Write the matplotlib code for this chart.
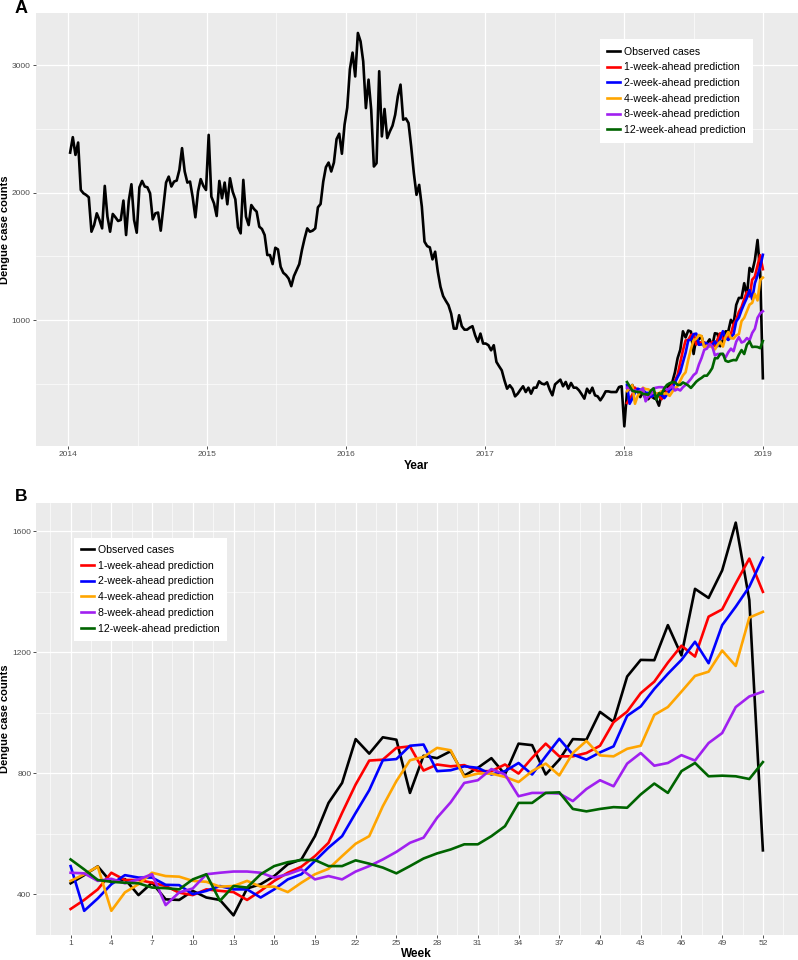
import numpy as np
import pandas as pd
import matplotlib
matplotlib.use('Agg')
import matplotlib.pyplot as plt
import matplotlib.dates as mdates
from matplotlib.ticker import FixedLocator

plt.rcParams['font.family'] = ['Liberation Sans', 'DejaVu Sans']

# weekly observed dengue cases, 2014-01-06 .. 2018-01-01
obs_2014_2017 = [
    2314, 2435, 2296, 2393, 2021, 1995, 1982, 1964, 1694, 1746, 1838, 1786, 1720, 2053,
    1812, 1694, 1833, 1807, 1778, 1786, 1938, 1668, 1935, 2066, 1786, 1686, 2042, 2092,
    2048, 2042, 1995, 1791, 1838, 1844, 1702, 1891, 2079, 2126, 2048, 2087, 2095, 2179,
    2349, 2166, 2079, 2087, 1964, 1807, 2009, 2106, 2053, 2021, 2453,
    1969, 1916, 1817, 2092, 1956, 2079, 1909, 2113, 2008, 1948, 1728, 1681, 2100, 1812,
    1746, 1903, 1872, 1851, 1733, 1715, 1668, 1511, 1511, 1440, 1568, 1555, 1419, 1372,
    1354, 1327, 1267, 1346, 1393, 1440, 1550, 1641, 1720, 1694, 1702, 1720, 1885, 1911,
    2087, 2200, 2236, 2166, 2236, 2420, 2462, 2305, 2533, 2666,
    2967, 3098, 2911, 3252, 3186, 3029, 2663, 2886, 2650, 2205, 2231, 2952, 2441, 2656,
    2428, 2480, 2525, 2611, 2755, 2847, 2572, 2582, 2546, 2362, 2153, 1983, 2061, 1891,
    1616, 1581, 1571, 1477, 1537, 1380, 1262, 1189, 1152, 1118, 1052, 934, 934, 1039,
    953, 926, 926, 942, 953, 882, 830,
    895, 817, 817, 804, 764, 804, 673, 639, 607, 529, 463, 490, 463, 403, 424, 455,
    482, 437, 471, 424, 471, 471, 521, 503, 497, 513, 455, 411, 497, 516, 534, 482,
    516, 463, 508, 471, 471, 450, 419, 385, 463, 429, 471, 411, 403, 372, 403, 442,
    442, 437, 437, 437, 476, 482, 168,
]

# 2018, weeks 1..52
weeks = list(range(1, 53))
obs_2018 = [
    436, 463, 492, 439, 450, 397, 438, 383, 381, 411, 389, 381, 330, 419, 433, 460,
    499, 515, 592, 702, 768, 913, 865, 919, 911, 735, 858, 850, 873, 792, 818, 850,
    796, 898, 893, 796, 845, 913, 911, 1003, 970, 1120, 1175, 1174, 1290, 1190, 1410,
    1380, 1471, 1629, 1373, 545,
]
pred_1wk = [
    351, 381, 416, 471, 447, 447, 438, 427, 405, 397, 416, 411, 407, 381, 411, 444,
    471, 491, 526, 570, 669, 763, 842, 845, 884, 889, 809, 829, 823, 827, 807, 807,
    829, 799, 851, 898, 856, 856, 867, 891, 969, 1004, 1065, 1103, 1166, 1222, 1186,
    1318, 1342, 1428, 1510, 1400,
]
pred_2wk = [
    493, 345, 386, 433, 463, 455, 455, 431, 430, 400, 411, 427, 416, 416, 389, 416,
    449, 466, 510, 554, 592, 669, 744, 843, 847, 891, 895, 807, 810, 823, 818, 796,
    807, 834, 796, 856, 914, 862, 845, 869, 889, 990, 1021, 1079, 1129, 1175, 1235,
    1164, 1290, 1351, 1417, 1513,
]
pred_4wk = [
    444, 466, 491, 345, 406, 433, 471, 460, 458, 444, 441, 425, 427, 444, 425, 425,
    407, 438, 466, 484, 526, 567, 592, 691, 774, 843, 854, 884, 876, 788, 799, 799,
    788, 771, 807, 832, 793, 867, 907, 859, 856, 881, 891, 993, 1019, 1070, 1122,
    1136, 1206, 1155, 1315, 1334,
]
pred_8wk = [
    471, 469, 444, 451, 436, 449, 466, 364, 406, 419, 466, 471, 475, 475, 471, 455,
    466, 482, 449, 460, 449, 475, 493, 515, 540, 570, 587, 653, 704, 768, 777, 814,
    796, 724, 735, 735, 733, 708, 748, 777, 757, 832, 867, 825, 834, 860, 842, 900,
    933, 1019, 1054, 1070,
]
pred_12wk = [
    515, 482, 447, 441, 438, 436, 422, 420, 416, 449, 466, 378, 427, 422, 466, 493,
    506, 513, 513, 493, 493, 512, 501, 488, 469, 493, 518, 535, 548, 565, 565, 592,
    625, 702, 702, 735, 737, 682, 674, 682, 688, 686, 730, 766, 735, 807, 834, 790,
    792, 790, 781, 837,
]

labels = ["Observed cases", "1-week-ahead prediction", "2-week-ahead prediction",
          "4-week-ahead prediction", "8-week-ahead prediction", "12-week-ahead prediction"]
colors = ["black", "#FF0000", "#0000FF", "#FFA500", "#A020F0", "#006400"]
preds = [pred_1wk, pred_2wk, pred_4wk, pred_8wk, pred_12wk]

obs_all = obs_2014_2017 + obs_2018
dates_all = pd.date_range('2014-01-06', periods=len(obs_all), freq='7D')
dates_2018 = dates_all[len(obs_2014_2017):]

LW = 1.9


def gg_style(ax):
    ax.set_facecolor('#EBEBEB')
    for s in ax.spines.values():
        s.set_visible(False)
    ax.set_axisbelow(True)
    ax.grid(which='major', color='white', lw=0.9)
    ax.grid(which='minor', color='white', lw=0.45)
    ax.tick_params(which='major', length=2.2, width=0.6, color='#333333',
                   labelsize=6, labelcolor='#4D4D4D', pad=1.2)
    ax.tick_params(which='minor', length=0)


def expand(lo, hi, f=0.05):
    d = (hi - lo) * f
    return lo - d, hi + d


fig = plt.figure(figsize=(7.98, 9.6), dpi=100)

# ---- panel A
axA = fig.add_axes([35.5 / 798, 1 - 446 / 960, 762 / 798, 432.7 / 960])
gg_style(axA)
axA.plot(dates_all, obs_all, color=colors[0], lw=LW, label=labels[0])
for p, c, l in zip(preds, colors[1:], labels[1:]):
    axA.plot(dates_2018, p, color=c, lw=LW, label=l)
pad = (dates_all[-1] - dates_all[0]) * 0.05
axA.set_xlim(dates_all[0] - pad, dates_all[-1] + pad)
axA.set_ylim(*expand(min(obs_all), max(obs_all)))
axA.xaxis.set_major_locator(mdates.YearLocator())
axA.xaxis.set_major_formatter(mdates.DateFormatter('%Y'))
axA.xaxis.set_minor_locator(FixedLocator(mdates.date2num(
    pd.to_datetime(['2014-07-02', '2015-07-02', '2016-07-02', '2017-07-02', '2018-07-02']))))
axA.yaxis.set_major_locator(FixedLocator([1000, 2000, 3000]))
axA.yaxis.set_minor_locator(FixedLocator([500, 1500, 2500]))
axA.set_xlabel('Year', fontsize=8.5, fontweight='bold')
axA.xaxis.set_label_coords(0.5, -0.033)
axA.set_ylabel('Dengue case counts', fontsize=8, fontweight='bold')
axA.yaxis.set_label_coords(-0.034, 0.5)

# ---- panel B
axB = fig.add_axes([36 / 798, 1 - 935 / 960, 761.5 / 798, 432 / 960])
gg_style(axB)
axB.plot(weeks, obs_2018, color=colors[0], lw=LW, label=labels[0])
for p, c, l in zip(preds, colors[1:], labels[1:]):
    axB.plot(weeks, p, color=c, lw=LW, label=l)
axB.set_xlim(*expand(min(weeks), max(weeks)))
allB = obs_2018 + sum(preds, [])
axB.set_ylim(*expand(min(allB), max(allB)))
axB.xaxis.set_major_locator(FixedLocator(list(range(1, 53, 3))))
axB.xaxis.set_minor_locator(FixedLocator(list(np.arange(-0.5, 55, 3))))
axB.yaxis.set_major_locator(FixedLocator([400, 800, 1200, 1600]))
axB.yaxis.set_minor_locator(FixedLocator([600, 1000, 1400]))
axB.set_xlabel('Week', fontsize=8.5, fontweight='bold')
axB.xaxis.set_label_coords(0.5, -0.03)
axB.set_ylabel('Dengue case counts', fontsize=8, fontweight='bold')
axB.yaxis.set_label_coords(-0.034, 0.5)

leg_kw = dict(loc='upper left', bbox_transform=fig.transFigure, fontsize=7.6,
              frameon=True, fancybox=False, framealpha=1, facecolor='white',
              edgecolor='none', handlelength=1.15, handletextpad=0.4,
              labelspacing=0.54, borderpad=0.7, borderaxespad=0)
axA.legend(bbox_to_anchor=(600 / 798, 1 - 39.3 / 960), **leg_kw)
axB.legend(bbox_to_anchor=(74 / 798, 1 - 537.7 / 960), **leg_kw)

fig.text(15 / 798, 1 - 13.3 / 960, 'A', fontsize=13, fontweight='bold', va='baseline')
fig.text(15 / 798, 1 - 500.7 / 960, 'B', fontsize=12.5, fontweight='bold', va='baseline')

fig.savefig('out.png', dpi=100)
